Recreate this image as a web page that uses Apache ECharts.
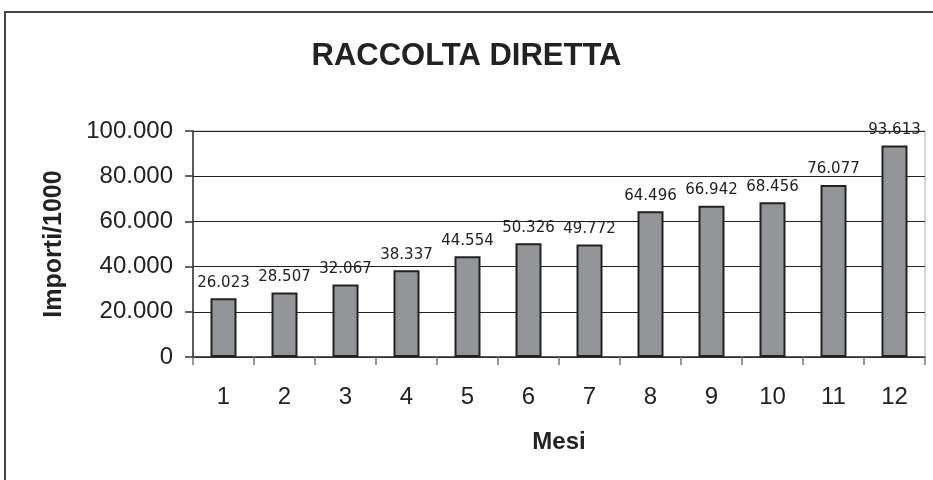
<!DOCTYPE html>
<html><head><meta charset="utf-8">
<script src="https://cdn.jsdelivr.net/npm/echarts@6/dist/echarts.min.js"></script>
<style>html,body{margin:0;padding:0;background:#fff}#c{width:933px;height:480px}</style>
</head><body><div id="c"></div>
<script>
var categories = ['1','2','3','4','5','6','7','8','9','10','11','12'];
var values = [26023, 28507, 32067, 38337, 44554, 50326, 49772, 64496, 66942, 68456, 76077, 93613];
var yTicks = [0, 20000, 40000, 60000, 80000, 100000];

function fmt(v){ return String(v).replace(/\B(?=(\d{3})+(?!\d))/g, '.'); }

var chart = echarts.init(document.getElementById('c'), null, {renderer:'canvas'});
chart.setOption({
  animation:false,
  backgroundColor:'#fff',
  title:{text:'RACCOLTA DIRETTA', left:'center', top:36,
    textStyle:{fontFamily:'Liberation Sans, Arial', fontWeight:'bold', fontSize:31, color:'#222'}},
  graphic:[{type:'rect', shape:{x:5,y:12,width:960,height:500}, style:{fill:'none', stroke:'#444', lineWidth:2}}],
  grid:{left:193, right:8, top:131, bottom:123, show:true, borderColor:'#aaa', borderWidth:1},
  xAxis:{type:'category', data:categories,
    name:'Mesi', nameLocation:'middle', nameGap:73,
    nameTextStyle:{fontFamily:'Liberation Sans, Arial', fontWeight:'bold', fontSize:24, color:'#222'},
    axisLine:{lineStyle:{color:'#333', width:1.5}},
    axisTick:{show:true, length:8, lineStyle:{color:'#777', width:1.5}},
    axisLabel:{fontFamily:'Liberation Sans, Arial', fontSize:24, color:'#222', margin:28}},
  yAxis:{type:'value', min:0, max:100000, interval:20000,
    name:'Importi/1000', nameLocation:'middle', nameGap:126,
    nameTextStyle:{fontFamily:'Liberation Sans, Arial', fontWeight:'bold', fontSize:25, color:'#222'},
    axisLine:{show:true, lineStyle:{color:'#333', width:1.5}},
    axisTick:{show:true, length:8, lineStyle:{color:'#333', width:1.5}},
    splitLine:{lineStyle:{color:'#222', width:1}},
    axisLabel:{fontFamily:'Liberation Sans, Arial', fontSize:24, color:'#222', margin:20,
      formatter:function(v){ return yTicks.indexOf(v) >= 0 ? fmt(v) : ''; }}},
  series:[{type:'bar', data:values, barWidth:26,
    itemStyle:{color:'#939598', borderColor:'#222', borderWidth:2},
    label:{show:true, position:'top', distance:8, color:'#222',
      fontFamily:'DejaVu Sans', fontSize:15,
      formatter:function(p){ return fmt(p.value); }}}]
});
</script></body></html>
